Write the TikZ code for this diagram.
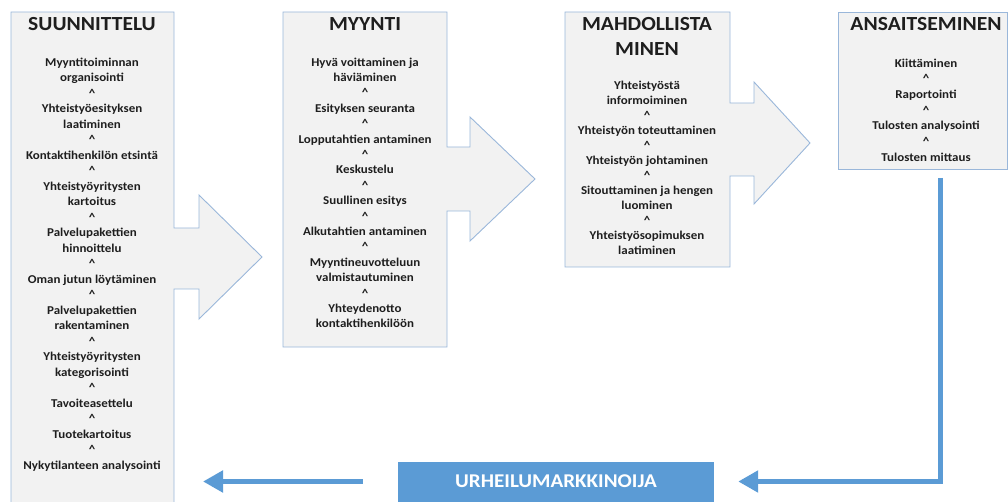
\documentclass[tikz,border=0pt]{standalone}
\usepackage{fontspec}
\setmainfont{Carlito}[FakeStretch=1.08]
\usetikzlibrary{arrows.meta}
\definecolor{panelfill}{HTML}{F2F2F2}
\definecolor{panelline}{HTML}{9AB7DA}
\definecolor{accent}{HTML}{5B9BD5}
\definecolor{ink}{HTML}{1E1E1E}
\newcommand\upmark{\textasciicircum}
\tikzset{
  panel/.style={fill=panelfill, draw=panelline, line width=0.9pt, line join=miter},
  phasetitle/.style={font=\fontsize{20}{25}\selectfont\bfseries, text=ink, align=center, inner sep=0pt, anchor=north},
  steplist/.style={font=\fontsize{12}{#1}\selectfont\bfseries, text=ink, align=center, inner sep=0pt, anchor=north},
  steplist/.default=15.5,
  flow/.style={draw=accent, line width=5.5pt, -{Triangle[length=20pt,width=21pt]}},
  banner/.style={fill=accent, text=white, minimum width=316pt, minimum height=40pt, inner sep=0pt,
    font=\fontsize{19.5}{22}\selectfont\bfseries}
}
\begin{document}
\begin{tikzpicture}[x=1pt,y=-1pt]
\useasboundingbox (0,0) rectangle (1008,502);
\clip (0,0) rectangle (1008,502);

% phase panels with their right-pointing arrows
\draw[panel] (11,12) -- (174,12) -- (174,228) -- (199,228) -- (199,195) -- (262,257)
  -- (199,319) -- (199,289) -- (174,289) -- (174,512) -- (11,512) -- cycle;
\draw[panel] (283,12) -- (447,12) -- (447,147) -- (470,147) -- (470,117) -- (535,179)
  -- (470,241) -- (470,211) -- (447,211) -- (447,347) -- (283,347) -- cycle;
\draw[panel] (565,12) -- (730,12) -- (730,103) -- (754,103) -- (754,82) -- (810,143)
  -- (754,204) -- (754,176) -- (730,176) -- (730,267) -- (565,267) -- cycle;
\draw[panel] (838,12) rectangle (1007,169);

% SUUNNITTELU
\node[phasetitle] (plan-t) at (92,17) {SUUNNITTELU};
\node[steplist=15.5] (plan-s) at (92,57.5) {Myyntitoiminnan\\organisointi\\\upmark\\Yhteistyöesityksen\\laatiminen\\\upmark\\
  Kontaktihenkilön etsintä\\\upmark\\Yhteistyöyritysten\\kartoitus\\\upmark\\Palvelupakettien\\hinnoittelu\\\upmark\\
  Oman jutun löytäminen\\\upmark\\Palvelupakettien\\rakentaminen\\\upmark\\Yhteistyöyritysten\\kategorisointi\\\upmark\\
  Tavoiteasettelu\\\upmark\\Tuotekartoitus\\\upmark\\Nykytilanteen analysointi};

% MYYNTI
\node[phasetitle] (sell-t) at (365,17) {MYYNTI};
\node[steplist=15.4] (sell-s) at (365,57.5) {Hyvä voittaminen ja\\häviäminen\\\upmark\\Esityksen seuranta\\\upmark\\
  Lopputahtien antaminen\\\upmark\\Keskustelu\\\upmark\\Suullinen esitys\\\upmark\\Alkutahtien antaminen\\\upmark\\
  Myyntineuvotteluun\\valmistautuminen\\\upmark\\Yhteydenotto\\kontaktihenkilöön};

% MAHDOLLISTAMINEN
\node[phasetitle] (enable-t) at (647,17) {MAHDOLLISTA\\MINEN};
\node[steplist=15] (enable-s) at (647,80.5) {Yhteistyöstä\\informoiminen\\\upmark\\Yhteistyön toteuttaminen\\\upmark\\
  Yhteistyön johtaminen\\\upmark\\Sitouttaminen ja hengen\\luominen\\\upmark\\Yhteistyösopimuksen\\laatiminen};

% ANSAITSEMINEN
\node[phasetitle] (earn-t) at (926,17) {ANSAITSEMINEN};
\node[steplist=15.7] (earn-s) at (926,58.5) {Kiittäminen\\\upmark\\Raportointi\\\upmark\\Tulosten analysointi\\\upmark\\Tulosten mittaus};

% marketer banner and the blue flow back to the start
\node[banner] (market) at (556,481.5) {URHEILUMARKKINOIJA};
\coordinate (earn-bottom) at (940.5,169);
\coordinate (loop-end) at (203,481.5);
\draw[flow, shorten <=9pt, shorten >=24pt] (earn-bottom) |- (market.east);
\draw[flow] ([xshift=-35pt]market.west) -- (loop-end);
\end{tikzpicture}
\end{document}
